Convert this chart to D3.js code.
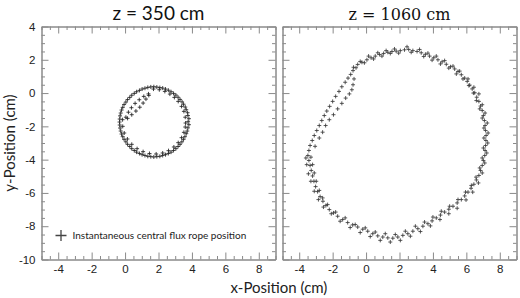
<!DOCTYPE html>
<html>
<head>
<meta charset="utf-8">
<script src="https://cdn.jsdelivr.net/npm/d3@7"></script>
<style>
  html, body { margin: 0; padding: 0; background: #fff; }
  svg { display: block; }
</style>
</head>
<body>
<svg id="chart" width="520" height="298"></svg>
<script>
// ---------------- DATA ----------------
const xTickValues = [-4, -2, 0, 2, 4, 6, 8];
const yTickValues = [4, 2, 0, -2, -4, -6, -8, -10];
const panelTitles = ["z = 350 cm", "z = 1060 cm"];
const xAxisTitle = "x-Position (cm)";
const yAxisTitle = "y-Position (cm)";
const legendLabel = "Instantaneous central flux rope position";

// z = 350 cm : positions (x, y) in cm
const ropeZ350LoopA = [
  [3.77,-1.72],[3.76,-1.35],[3.66,-1.00],[3.50,-0.67],[3.29,-0.38],[3.04,-0.12],[2.75,0.08],
  [2.42,0.24],[2.08,0.33],[1.72,0.38],[1.36,0.34],[1.02,0.24],[0.69,0.08],[0.40,-0.13],
  [0.15,-0.39],[-0.06,-0.69],[-0.21,-1.02],[-0.30,-1.37],[-0.33,-1.74],[-0.30,-2.10],
  [-0.21,-2.46],[-0.06,-2.78],[0.15,-3.08],[0.40,-3.34],[0.69,-3.55],[1.02,-3.70],
  [1.36,-3.80],[1.72,-3.84],[2.08,-3.80],[2.42,-3.70],[2.75,-3.55],[3.04,-3.34],
  [3.29,-3.08],[3.50,-2.78],[3.66,-2.44],[3.76,-2.09]
];
const ropeZ350LoopB = [
  [3.82,-1.54],[3.74,-1.18],[3.60,-0.84],[3.41,-0.53],[3.17,-0.25],[2.90,-0.02],[2.59,0.17],
  [2.25,0.30],[1.90,0.36],[1.54,0.37],[1.19,0.29],[0.86,0.16],[0.55,-0.02],[0.28,-0.26],
  [0.05,-0.54],[-0.14,-0.86],[-0.26,-1.20],[-0.32,-1.56],[-0.32,-1.92],[-0.26,-2.28],
  [-0.14,-2.62],[0.05,-2.93],[0.28,-3.21],[0.55,-3.45],[0.86,-3.63],[1.19,-3.75],
  [1.54,-3.82],[1.90,-3.82],[2.25,-3.75],[2.59,-3.63],[2.90,-3.45],[3.17,-3.21],
  [3.40,-2.93],[3.58,-2.62],[3.72,-2.28],[3.82,-1.90]
];
const ropeZ350LoopC = [
  [3.62,-1.80],[3.60,-1.45],[3.52,-1.10],[3.38,-0.80],[3.18,-0.50],[2.95,-0.26],[2.68,-0.06],
  [2.38,0.10],[2.05,0.20],[1.70,0.24],[-0.15,-1.60],[-0.14,-2.00],[-0.05,-2.40],[0.14,-2.76],
  [0.40,-3.08],[0.72,-3.34],[1.08,-3.52],[1.46,-3.63],[1.86,-3.66],[2.25,-3.60],
  [2.60,-3.46],[2.92,-3.24],[3.18,-2.98],[3.38,-2.68],[3.52,-2.36],[3.60,-2.04]
];
const ropeZ350Eye = [
  [0.05,-1.45],[0.20,-1.15],[0.38,-0.88],[0.60,-0.62],[0.85,-0.40],[1.12,-0.20],[1.40,-0.05],
  [0.15,-1.52],[0.40,-1.30],[0.65,-1.08],[0.88,-0.85],[1.08,-0.60],[1.25,-0.36],[1.42,-0.14]
];

// z = 1060 cm : positions (x, y) in cm
const ropeZ1060LoopA = [
  [-0.75,1.55],[-0.50,1.72],[-0.25,1.85],[0.05,2.00],[0.30,2.12],[0.55,2.22],[0.80,2.32],
  [1.05,2.38],[1.30,2.45],[1.55,2.50],[1.80,2.52],[2.05,2.55],[2.30,2.60],[2.55,2.62],
  [2.80,2.55],[3.05,2.50],[3.30,2.42],[3.55,2.33],[3.80,2.22],[4.05,2.12],[4.30,2.00],
  [4.55,1.88],[4.80,1.73],[5.05,1.58],[5.30,1.45],[5.50,1.30],[5.70,1.10],[5.90,0.90],
  [6.05,0.70],[6.20,0.48],[6.35,0.25],[6.50,0.02],[6.62,-0.25],[6.75,-0.50],[6.85,-0.78],
  [6.95,-1.05],[7.02,-1.35],[7.08,-1.65],[7.12,-1.95],[7.15,-2.25],[7.18,-2.55],[7.17,-2.85],
  [7.15,-3.15],[7.12,-3.45],[7.10,-3.75],[7.02,-4.05],[6.95,-4.35],[6.85,-4.65],[6.75,-4.95],
  [6.60,-5.22],[6.45,-5.48],[6.28,-5.72],[6.10,-5.95],[5.90,-6.18],[5.70,-6.40],[5.45,-6.60],
  [5.20,-6.80],[4.95,-6.98],[4.70,-7.15],[4.45,-7.33],[4.20,-7.50],[3.95,-7.68],[3.70,-7.85],
  [3.40,-8.00],[3.10,-8.15],[2.80,-8.30],[2.50,-8.45],[2.20,-8.55],[1.90,-8.65],[1.60,-8.72],
  [1.30,-8.70],[1.00,-8.65],[0.70,-8.58],[0.40,-8.45],[0.10,-8.30],[-0.20,-8.18],[-0.50,-8.05],
  [-0.80,-7.92],[-1.10,-7.78],[-1.40,-7.60],[-1.70,-7.40],[-1.95,-7.20],[-2.20,-7.00],
  [-2.40,-6.75],[-2.58,-6.50],[-2.75,-6.22],[-2.90,-5.92],[-3.02,-5.62],[-3.12,-5.30],
  [-3.20,-4.98],[-3.28,-4.65],[-3.35,-4.35],[-3.42,-4.05],[-3.48,-3.75],[-3.42,-3.45],
  [-3.35,-3.15],[-3.22,-2.85],[-3.10,-2.55],[-2.95,-2.25],[-2.80,-1.95],[-2.65,-1.65],
  [-2.50,-1.35],[-2.35,-1.08],[-2.18,-0.80],[-2.00,-0.50],[-1.82,-0.20],[-1.62,0.10],
  [-1.45,0.38],[-1.25,0.65],[-1.08,0.90],[-0.92,1.12],[-0.78,1.35]
];
const ropeZ1060LoopB = [
  [-0.60,1.52],[-0.35,1.90],[-0.10,1.82],[0.15,2.22],[0.45,2.05],[0.70,2.42],[0.95,2.22],
  [1.20,2.55],[1.45,2.38],[1.70,2.65],[1.95,2.40],[2.45,2.78],[2.70,2.45],[3.20,2.62],
  [3.45,2.20],[3.70,2.40],[3.95,1.98],[4.20,2.22],[4.45,1.75],[4.70,1.95],[4.95,1.50],
  [5.20,1.62],[5.40,1.15],[5.60,1.32],[5.80,0.85],[6.10,0.85],[6.15,0.45],[6.45,0.35],
  [6.42,0.00],[6.75,-0.05],[6.60,-0.45],[6.95,-0.70],[6.80,-0.95],[7.12,-1.20],[6.95,-1.50],
  [7.25,-1.80],[7.05,-2.10],[7.30,-2.40],[7.05,-2.70],[7.28,-3.00],[7.02,-3.30],[7.22,-3.60],
  [6.95,-3.90],[7.10,-4.20],[6.80,-4.50],[6.95,-4.80],[6.58,-5.05],[6.72,-5.40],[6.30,-5.55],
  [6.38,-5.95],[5.95,-5.95],[5.98,-6.42],[5.50,-6.40],[5.45,-6.92],[5.00,-6.80],[4.95,-7.25],
  [4.50,-7.10],[4.42,-7.60],[4.00,-7.45],[3.85,-7.98],[3.50,-7.75],[3.25,-8.32],[2.95,-8.00],
  [2.65,-8.60],[2.35,-8.30],[2.05,-8.85],[1.75,-8.50],[1.45,-8.95],[1.15,-8.45],[0.85,-8.85],
  [0.55,-8.35],[0.25,-8.62],[-0.05,-8.10],[-0.35,-8.38],[-0.65,-7.90],[-0.95,-8.08],
  [-1.25,-7.50],[-1.55,-7.70],[-1.82,-7.15],[-2.08,-7.25],[-2.30,-6.70],[-2.55,-6.85],
  [-2.60,-6.30],[-2.85,-6.40],[-2.80,-5.85],[-3.10,-5.90],[-2.98,-5.30],[-3.30,-5.30],
  [-3.10,-4.80],[-3.45,-4.85],[-3.20,-4.30],[-3.55,-4.30],[-3.30,-3.85],[-3.60,-3.90],
  [-3.05,-3.20],[-2.80,-2.70],[-2.60,-2.35],[-2.42,-1.95],[-2.20,-1.60],[-1.95,-1.30],
  [-1.70,-0.95],[-1.45,-0.62],[-1.22,-0.30],[-1.00,-0.05],[-0.85,0.20],[-0.78,0.50],
  [-0.72,0.85]
];

// ---------------- CHART ----------------
const svg = d3.select("#chart");
const frameTop = 26.5, frameBottom = 259.5, frameW = 234;
const panelLefts = [41.5, 282.5];
const xDomain = [-5, 9], yDomain = [-10, 4];
const minorStep = 0.5;
const frameColor = "#8a8a8a";
const textColor = "#222";
const labelFont = "'Liberation Sans', Arial, sans-serif";
const humanFont = "Lato, 'Open Sans', sans-serif";
const fmt = d => String(d);

const panels = [
  { left: panelLefts[0], title: panelTitles[0], titleFont: humanFont, titleSize: 19,
    series: [ropeZ350LoopA, ropeZ350LoopB, ropeZ350LoopC, ropeZ350Eye], markColor: "#222",
    yLabels: true, legend: true },
  { left: panelLefts[1], title: panelTitles[1], titleFont: "'DejaVu Serif', serif", titleSize: 16,
    series: [ropeZ1060LoopA, ropeZ1060LoopB], markColor: "#3a3a3a",
    yLabels: false, legend: false }
];

const minorX = d3.range(xDomain[0], xDomain[1] + 0.001, minorStep).filter(v => !xTickValues.includes(v));
const minorY = d3.range(yDomain[0], yDomain[1] + 0.001, minorStep).filter(v => !yTickValues.includes(v));

function styleAxis(g, showLabels) {
  g.select(".domain").attr("stroke", frameColor).attr("stroke-width", 1);
  g.selectAll(".tick line").attr("stroke", frameColor).attr("stroke-width", 1);
  g.selectAll(".tick text")
    .attr("fill", textColor)
    .attr("font-family", labelFont)
    .attr("font-size", 11.5);
  if (!showLabels) g.selectAll(".tick text").remove();
  g.attr("font-family", null).attr("font-size", null);
}

panels.forEach(p => {
  const x = d3.scaleLinear().domain(xDomain).range([p.left, p.left + frameW]);
  const y = d3.scaleLinear().domain(yDomain).range([frameBottom, frameTop]);
  const g = svg.append("g");

  // minor ticks (all four sides)
  const minorLen = -3.5;
  g.append("g").attr("transform", `translate(0,${frameBottom})`)
    .call(d3.axisBottom(x).tickValues(minorX).tickSize(minorLen).tickSizeOuter(0).tickFormat(""))
    .call(s => styleAxis(s, false));
  g.append("g").attr("transform", `translate(0,${frameTop})`)
    .call(d3.axisTop(x).tickValues(minorX).tickSize(minorLen).tickSizeOuter(0).tickFormat(""))
    .call(s => styleAxis(s, false));
  g.append("g").attr("transform", `translate(${p.left},0)`)
    .call(d3.axisLeft(y).tickValues(minorY).tickSize(minorLen).tickSizeOuter(0).tickFormat(""))
    .call(s => styleAxis(s, false));
  g.append("g").attr("transform", `translate(${p.left + frameW},0)`)
    .call(d3.axisRight(y).tickValues(minorY).tickSize(minorLen).tickSizeOuter(0).tickFormat(""))
    .call(s => styleAxis(s, false));

  // major ticks
  const majorLen = -7;
  g.append("g").attr("transform", `translate(0,${frameBottom})`)
    .call(d3.axisBottom(x).tickValues(xTickValues).tickSize(majorLen).tickSizeOuter(0).tickPadding(5).tickFormat(fmt))
    .call(s => styleAxis(s, true));
  g.append("g").attr("transform", `translate(0,${frameTop})`)
    .call(d3.axisTop(x).tickValues(xTickValues).tickSize(majorLen).tickSizeOuter(0).tickFormat(""))
    .call(s => styleAxis(s, false));
  g.append("g").attr("transform", `translate(${p.left},0)`)
    .call(d3.axisLeft(y).tickValues(yTickValues).tickSize(majorLen).tickSizeOuter(0).tickPadding(6).tickFormat(fmt))
    .call(s => styleAxis(s, p.yLabels));
  g.append("g").attr("transform", `translate(${p.left + frameW},0)`)
    .call(d3.axisRight(y).tickValues(yTickValues).tickSize(majorLen).tickSizeOuter(0).tickFormat(""))
    .call(s => styleAxis(s, false));

  // title
  svg.append("text")
    .attr("x", p.left + frameW / 2).attr("y", 19.5)
    .attr("text-anchor", "middle")
    .attr("font-family", p.titleFont).attr("font-size", p.titleSize)
    .attr("fill", "#111")
    .text(p.title);

  // markers
  const pts = p.series.flat();
  g.append("g").selectAll("path")
    .data(pts).join("path")
    .attr("transform", d => `translate(${x(d[0])},${y(d[1])})`)
    .attr("d", "M-2,0H2M0,-2V2")
    .attr("stroke", p.markColor).attr("stroke-width", 0.85).attr("fill", "none");

  if (p.legend) {
    const lg = svg.append("g").attr("transform", `translate(${p.left + 19.5},235.5)`);
    lg.append("path").attr("d", "M-5.5,0H5.5M0,-5.5V5.5")
      .attr("stroke", "#444").attr("stroke-width", 1.3).attr("fill", "none");
    lg.append("text").attr("x", 11.5).attr("y", 3.3)
      .attr("font-family", humanFont).attr("font-size", 10)
      .attr("fill", textColor).text(legendLabel);
  }
});

// axis titles
svg.append("text")
  .attr("x", (panelLefts[0] + panelLefts[1] + frameW) / 2).attr("y", 293)
  .attr("text-anchor", "middle")
  .attr("font-family", humanFont).attr("font-size", 15)
  .attr("fill", textColor).text(xAxisTitle);
svg.append("text")
  .attr("transform", `translate(15,${(frameTop + frameBottom) / 2}) rotate(-90)`)
  .attr("text-anchor", "middle")
  .attr("font-family", humanFont).attr("font-size", 15)
  .attr("fill", textColor).text(yAxisTitle);
</script>
</body>
</html>
